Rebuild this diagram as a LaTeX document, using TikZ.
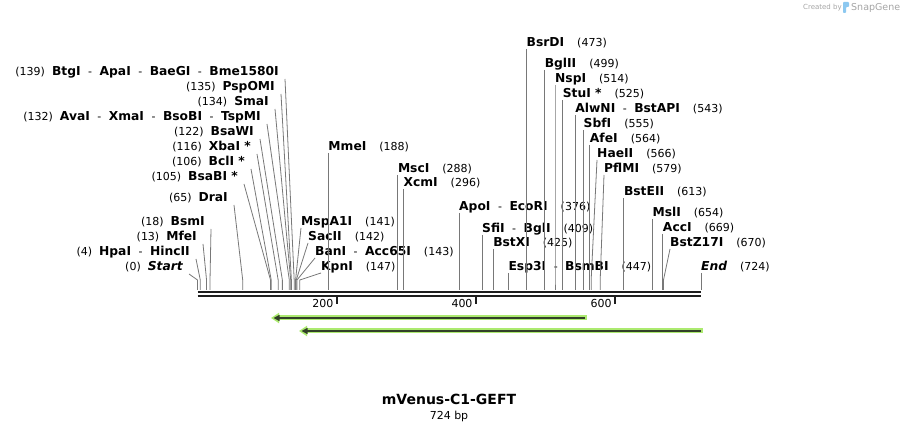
\documentclass[tikz,border=0pt]{standalone}
\usepackage{fontspec}
\setmainfont{DejaVu Sans}
\usetikzlibrary{arrows.meta,positioning}
\definecolor{cutline}{RGB}{120,120,120}
\definecolor{bbdark}{RGB}{30,30,30}
\definecolor{featglow}{RGB}{172,234,112}
\definecolor{featline}{RGB}{50,64,40}
\definecolor{markgray}{RGB}{165,165,165}
\definecolor{snapblue}{RGB}{140,200,240}
\newcommand{\enz}[1]{{\fontsize{12.3}{14}\selectfont\bfseries #1}}
\newcommand{\dsh}{\hspace{7.5pt}-\hspace{7.5pt}}
\newcommand{\nsp}{\hspace{13pt}}
\newcommand{\sitex}[1]{197.5+0.6955*#1}

\begin{document}
\begin{tikzpicture}[x=1pt,y=-1pt,
  lbl/.style={inner sep=0pt,font=\fontsize{11}{13}\selectfont},
  lft/.style={lbl,anchor=base east},
  rgt/.style={lbl,anchor=base west},
  cut/.style={draw=cutline,line width=0.8pt},
  bbone/.style={draw=bbdark,line width=2.4pt},
  tick/.style={draw=bbdark,line width=2pt},
  wmark/.style={inner sep=0pt,anchor=west,text=markgray}]
\useasboundingbox (0,0) rectangle (900,430);

% cut sites on the backbone
\foreach \p in {0,4,13,18,65,105,106,116,122,132,134,135,139,141,142,143,147,188,288,296,
                376,409,425,447,473,499,514,525,543,555,564,566,579,613,654,669,670,724}
  \coordinate (s\p) at ({\sitex{\p}},290);

% labels on the left
\node[lft] (lbtg) at (279,76) {(139)\hspace{7pt}\enz{BtgI}\dsh\enz{ApaI}\dsh\enz{BaeGI}\dsh\enz{Bme1580I}};
\node[lft] (lpsp) at (275,91) {(135)\hspace{7pt}\enz{PspOMI}};
\node[lft] (lsma) at (269,106) {(134)\hspace{7pt}\enz{SmaI}};
\node[lft] (ltsp) at (261,121) {(132)\hspace{7pt}\enz{AvaI}\dsh\enz{XmaI}\dsh\enz{BsoBI}\dsh\enz{TspMI}};
\node[lft] (lbsaw) at (254,136) {(122)\hspace{7pt}\enz{BsaWI}};
\node[lft] (lxba) at (251,151) {(116)\hspace{7pt}\enz{XbaI *}};
\node[lft] (lbcl) at (245,166) {(106)\hspace{7pt}\enz{BclI *}};
\node[lft] (lbsab) at (238,181) {(105)\hspace{7pt}\enz{BsaBI *}};
\node[lft] (ldra) at (228,202) {(65)\hspace{7pt}\enz{DraI}};
\node[lft] (lbsm) at (205,226) {(18)\hspace{7pt}\enz{BsmI}};
\node[lft] (lmfe) at (197,241) {(13)\hspace{7pt}\enz{MfeI}};
\node[lft] (lhpa) at (190,256) {(4)\hspace{7pt}\enz{HpaI}\dsh\enz{HincII}};
\node[lft] (lstart) at (183,271) {(0)\hspace{7pt}\enz{\itshape Start}};

% labels on the right
\node[rgt] (lmme) at ({\sitex{188}},151) {\enz{MmeI}\nsp(188)};
\node[rgt] (lmsc) at ({\sitex{288}},173) {\enz{MscI}\nsp(288)};
\node[rgt] (lxcm) at ({\sitex{296}},187) {\enz{XcmI}\nsp(296)};
\node[rgt] (lmsp) at (301,226) {\enz{MspA1I}\nsp(141)};
\node[rgt] (lsac) at (308,241) {\enz{SacII}\nsp(142)};
\node[rgt] (lban) at (315,256) {\enz{BanI}\dsh\enz{Acc65I}\nsp(143)};
\node[rgt] (lkpn) at (321,271) {\enz{KpnI}\nsp(147)};
\node[rgt] (lapo) at ({\sitex{376}},211) {\enz{ApoI}\dsh\enz{EcoRI}\nsp(376)};
\node[rgt] (lsfi) at ({\sitex{409}},233) {\enz{SfiI}\dsh\enz{BglI}\nsp(409)};
\node[rgt] (lbstx) at ({\sitex{425}},247) {\enz{BstXI}\nsp(425)};
\node[rgt] (lesp) at ({\sitex{447}},271) {\enz{Esp3I}\dsh\enz{BsmBI}\nsp(447)};
\node[rgt] (lbsrd) at ({\sitex{473}},47) {\enz{BsrDI}\nsp(473)};
\node[rgt] (lbgl) at ({\sitex{499}},68) {\enz{BglII}\nsp(499)};
\node[rgt] (lnsp) at ({\sitex{514}},83) {\enz{NspI}\nsp(514)};
\node[rgt] (lstu) at ({\sitex{525}},98) {\enz{StuI *}\nsp(525)};
\node[rgt] (lalw) at ({\sitex{543}},113) {\enz{AlwNI}\dsh\enz{BstAPI}\nsp(543)};
\node[rgt] (lsbf) at ({\sitex{555}},128) {\enz{SbfI}\nsp(555)};
\node[rgt] (lafe) at ({\sitex{564}},143) {\enz{AfeI}\nsp(564)};
\node[rgt] (lhae) at (597,158) {\enz{HaeII}\nsp(566)};
\node[rgt] (lpfl) at (604,173) {\enz{PflMI}\nsp(579)};
\node[rgt] (lbste) at ({\sitex{613}},196) {\enz{BstEII}\nsp(613)};
\node[rgt] (lmsl) at ({\sitex{654}},217) {\enz{MslI}\nsp(654)};
\node[rgt] (lacc) at ({\sitex{669}},232) {\enz{AccI}\nsp(669)};
\node[rgt] (lbstz) at (670,247) {\enz{BstZ17I}\nsp(670)};
\node[rgt] (lend) at ({\sitex{724}},271) {\enz{\itshape End}\nsp(724)};

% site lines
\foreach \l/\p in {lbtg/139,lpsp/135,lsma/134,ltsp/132,lbsaw/122,lxba/116,lbcl/106,
                   lbsab/105,ldra/65,lbsm/18,lmfe/13,lhpa/4,lstart/0}
  \draw[cut] ([shift={(6,3)}]\l.base east) -- ([yshift=10pt]s\p) -- (s\p);
\foreach \l/\p in {lmme/188,lmsc/288,lxcm/296,lmsp/141,lsac/142,lban/143,lkpn/147,
                   lapo/376,lsfi/409,lbstx/425,lesp/447,lbsrd/473,lbgl/499,lnsp/514,
                   lstu/525,lalw/543,lsbf/555,lafe/564,lhae/566,lpfl/579,lbste/613,
                   lmsl/654,lacc/669,lbstz/670,lend/724}
  \draw[cut] ([shift={(0,2)}]\l.base west) -- ([yshift=10pt]s\p) -- (s\p);

% backbone and ruler
\draw[bbone] ([yshift=-2.2pt]s0) -- ([yshift=-2.2pt]s724);
\draw[bbone] ([yshift=-6pt]s0) -- ([yshift=-6pt]s724);
\foreach \t in {200,400,600} {
  \coordinate (t\t) at ({\sitex{\t}},297.5);
  \draw[tick] (t\t) -- ++(0,6.5);
  \node[lbl,anchor=base east] (n\t) at ([shift={(-3,10)}]t\t) {\t};
}

% features
\draw[featglow,line width=5pt,-{Triangle[length=8pt,width=10pt]}] (587,318) -- (271,318);
\draw[featline,line width=1.8pt,-{Triangle[length=6pt,width=6pt]}] (585,318) -- (273.5,318);
\draw[featglow,line width=5pt,-{Triangle[length=8pt,width=10pt]}] (703,331) -- (299,331);
\draw[featline,line width=1.8pt,-{Triangle[length=6pt,width=6pt]}] (701,331) -- (301.5,331);

% name and length
\node[inner sep=0pt,font=\fontsize{14}{16}\selectfont\bfseries] (title) at (449,399) {mVenus-C1-GEFT};
\node[lbl,below=6pt of title] (len) {724 bp};

% watermark
\node[wmark,font=\fontsize{7}{8}\selectfont] (cby) at (803,7.5) {Created by};
\fill[snapblue,rounded corners=0.8pt] (843,2) -- (849,2) -- (849,7) -- (846,7) -- (846,13) -- (843,13) -- cycle;
\node[wmark,font=\fontsize{9.5}{10}\selectfont] (sg) at (851,7.5) {SnapGene};
\end{tikzpicture}
\end{document}
